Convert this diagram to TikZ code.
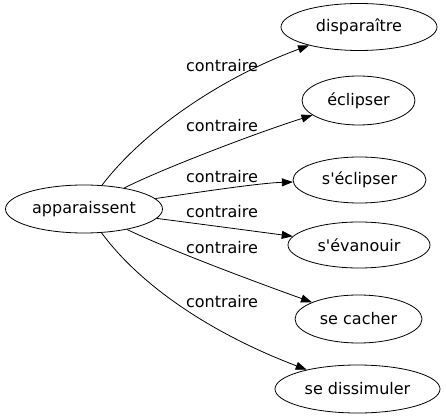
\documentclass[tikz,border=0pt]{standalone}
\usepackage{fontspec}
\setmainfont{DejaVu Sans}[Ligatures=TeXOff]
\usetikzlibrary{shapes.geometric,arrows.meta}
\begin{document}
\begin{tikzpicture}[x=1pt,y=-1pt,
  word/.style={draw,ellipse,inner sep=0pt,line width=0.8pt,font=\fontsize{16}{18}\selectfont},
  lbl/.style={inner sep=0pt,font=\fontsize{16}{18}\selectfont},
  rel/.style={line width=0.8pt,-{Triangle[length=11pt,width=8pt]}}]
\useasboundingbox (0,0) rectangle (446,419);
\node[word,minimum width=157pt,minimum height=48pt] (a) at (84,209) {apparaissent};
\node[word,minimum width=156pt,minimum height=47pt] (b1) at (359,27) {disparaître};
\node[word,minimum width=113pt,minimum height=49pt] (b2) at (358.5,100.5) {éclipser};
\node[word,minimum width=133pt,minimum height=46pt] (b3) at (359.5,180) {s'éclipser};
\node[word,minimum width=142pt,minimum height=46pt] (b4) at (359,245) {s'évanouir};
\node[word,minimum width=127pt,minimum height=48pt] (b5) at (358.5,319) {se cacher};
\node[word,minimum width=165pt,minimum height=48pt] (b6) at (357.5,389) {se dissimuler};
\draw[rel] (a) .. controls (140,135) and (215,80) .. (b1);
\draw[rel] (a) .. controls (155,172) and (250,135) .. (b2);
\draw[rel] (a) .. controls (200,192) and (260,183) .. (b3);
\draw[rel] (a) .. controls (200,224) and (260,232) .. (b4);
\draw[rel] (a) .. controls (170,250) and (250,280) .. (b5);
\draw[rel] (a) .. controls (140,285) and (210,333) .. (b6);
\node[lbl] (l1) at (222,66) {contraire};
\node[lbl] (l2) at (222,126) {contraire};
\node[lbl] (l3) at (222,177) {contraire};
\node[lbl] (l4) at (222,212) {contraire};
\node[lbl] (l5) at (222,248) {contraire};
\node[lbl] (l6) at (222,302) {contraire};
\end{tikzpicture}
\end{document}
